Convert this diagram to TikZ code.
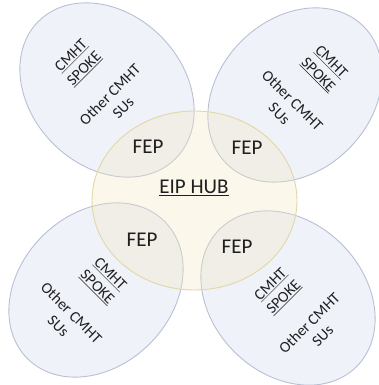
\documentclass[tikz,border=0pt]{standalone}
\usepackage{fontspec}
\setmainfont{Carlito}
\usepackage{xcolor}
\usepackage{tikz}
\usetikzlibrary{shapes.geometric}
\definecolor{spokefill}{HTML}{F0F2FA}
\definecolor{spokeline}{HTML}{B8C0D4}
\definecolor{hubfill}{HTML}{F2E6BE}
\definecolor{hubline}{HTML}{E0D8A6}
\tikzstyle{spoke}=[shape=ellipse, fill=spokefill, draw=spokeline, line width=0.9pt, minimum width=152pt, minimum height=194pt, inner sep=0pt]
\tikzstyle{hub}=[shape=ellipse, fill=hubfill, fill opacity=0.3, draw=hubline, line width=0.9pt, minimum width=205pt, minimum height=179pt, inner sep=0pt]
\tikzstyle{fep}=[font=\fontsize{21}{25}\selectfont, text=black!88]
\tikzstyle{spoke text}=[align=center, font=\fontsize{15.5}{18.5}\selectfont, text=black!88]
\pgfdeclarelayer{spokelayer}
\pgfdeclarelayer{hublayer}
\pgfsetlayers{spokelayer,hublayer,main}

\begin{document}
\begin{tikzpicture}[x=1pt, y=1pt]
	\useasboundingbox (0, 0) rectangle (379, 385);
	\begin{pgfonlayer}{spokelayer}
		\node [style=spoke, rotate=45] (0) at (107, 295) {};
		\node [style=spoke, rotate=-45] (1) at (295, 290) {};
		\node [style=spoke, rotate=-45] (2) at (96, 95) {};
		\node [style=spoke, rotate=45] (3) at (288, 87) {};
	\end{pgfonlayer}
	\begin{pgfonlayer}{hublayer}
		\node [style=hub] (4) at (194.5, 184.5) {};
	\end{pgfonlayer}
	% hub and front end points
	\node [style=fep] (5) at (194, 197) {\underline{EIP HUB}};
	\node [style=fep] (6) at (148, 238) {FEP};
	\node [style=fep] (7) at (247, 237) {FEP};
	\node [style=fep] (8) at (142, 145) {FEP};
	\node [style=fep] (9) at (237, 138) {FEP};
	% spoke labels
	\node [style=spoke text, rotate=45] (10) at (97, 303.5) {\underline{CMHT}\\\underline{SPOKE}\\~\\Other CMHT\\SUs};
	\node [style=spoke text, rotate=-45] (11) at (305.5, 297.5) {\underline{CMHT}\\\underline{SPOKE}\\~\\Other CMHT\\SUs};
	\node [style=spoke text, rotate=-45] (12) at (84.5, 85) {\underline{CMHT}\\\underline{SPOKE}\\~\\Other CMHT\\SUs};
	\node [style=spoke text, rotate=45] (13) at (296.5, 75) {\underline{CMHT}\\\underline{SPOKE}\\~\\Other CMHT\\SUs};
\end{tikzpicture}
\end{document}
